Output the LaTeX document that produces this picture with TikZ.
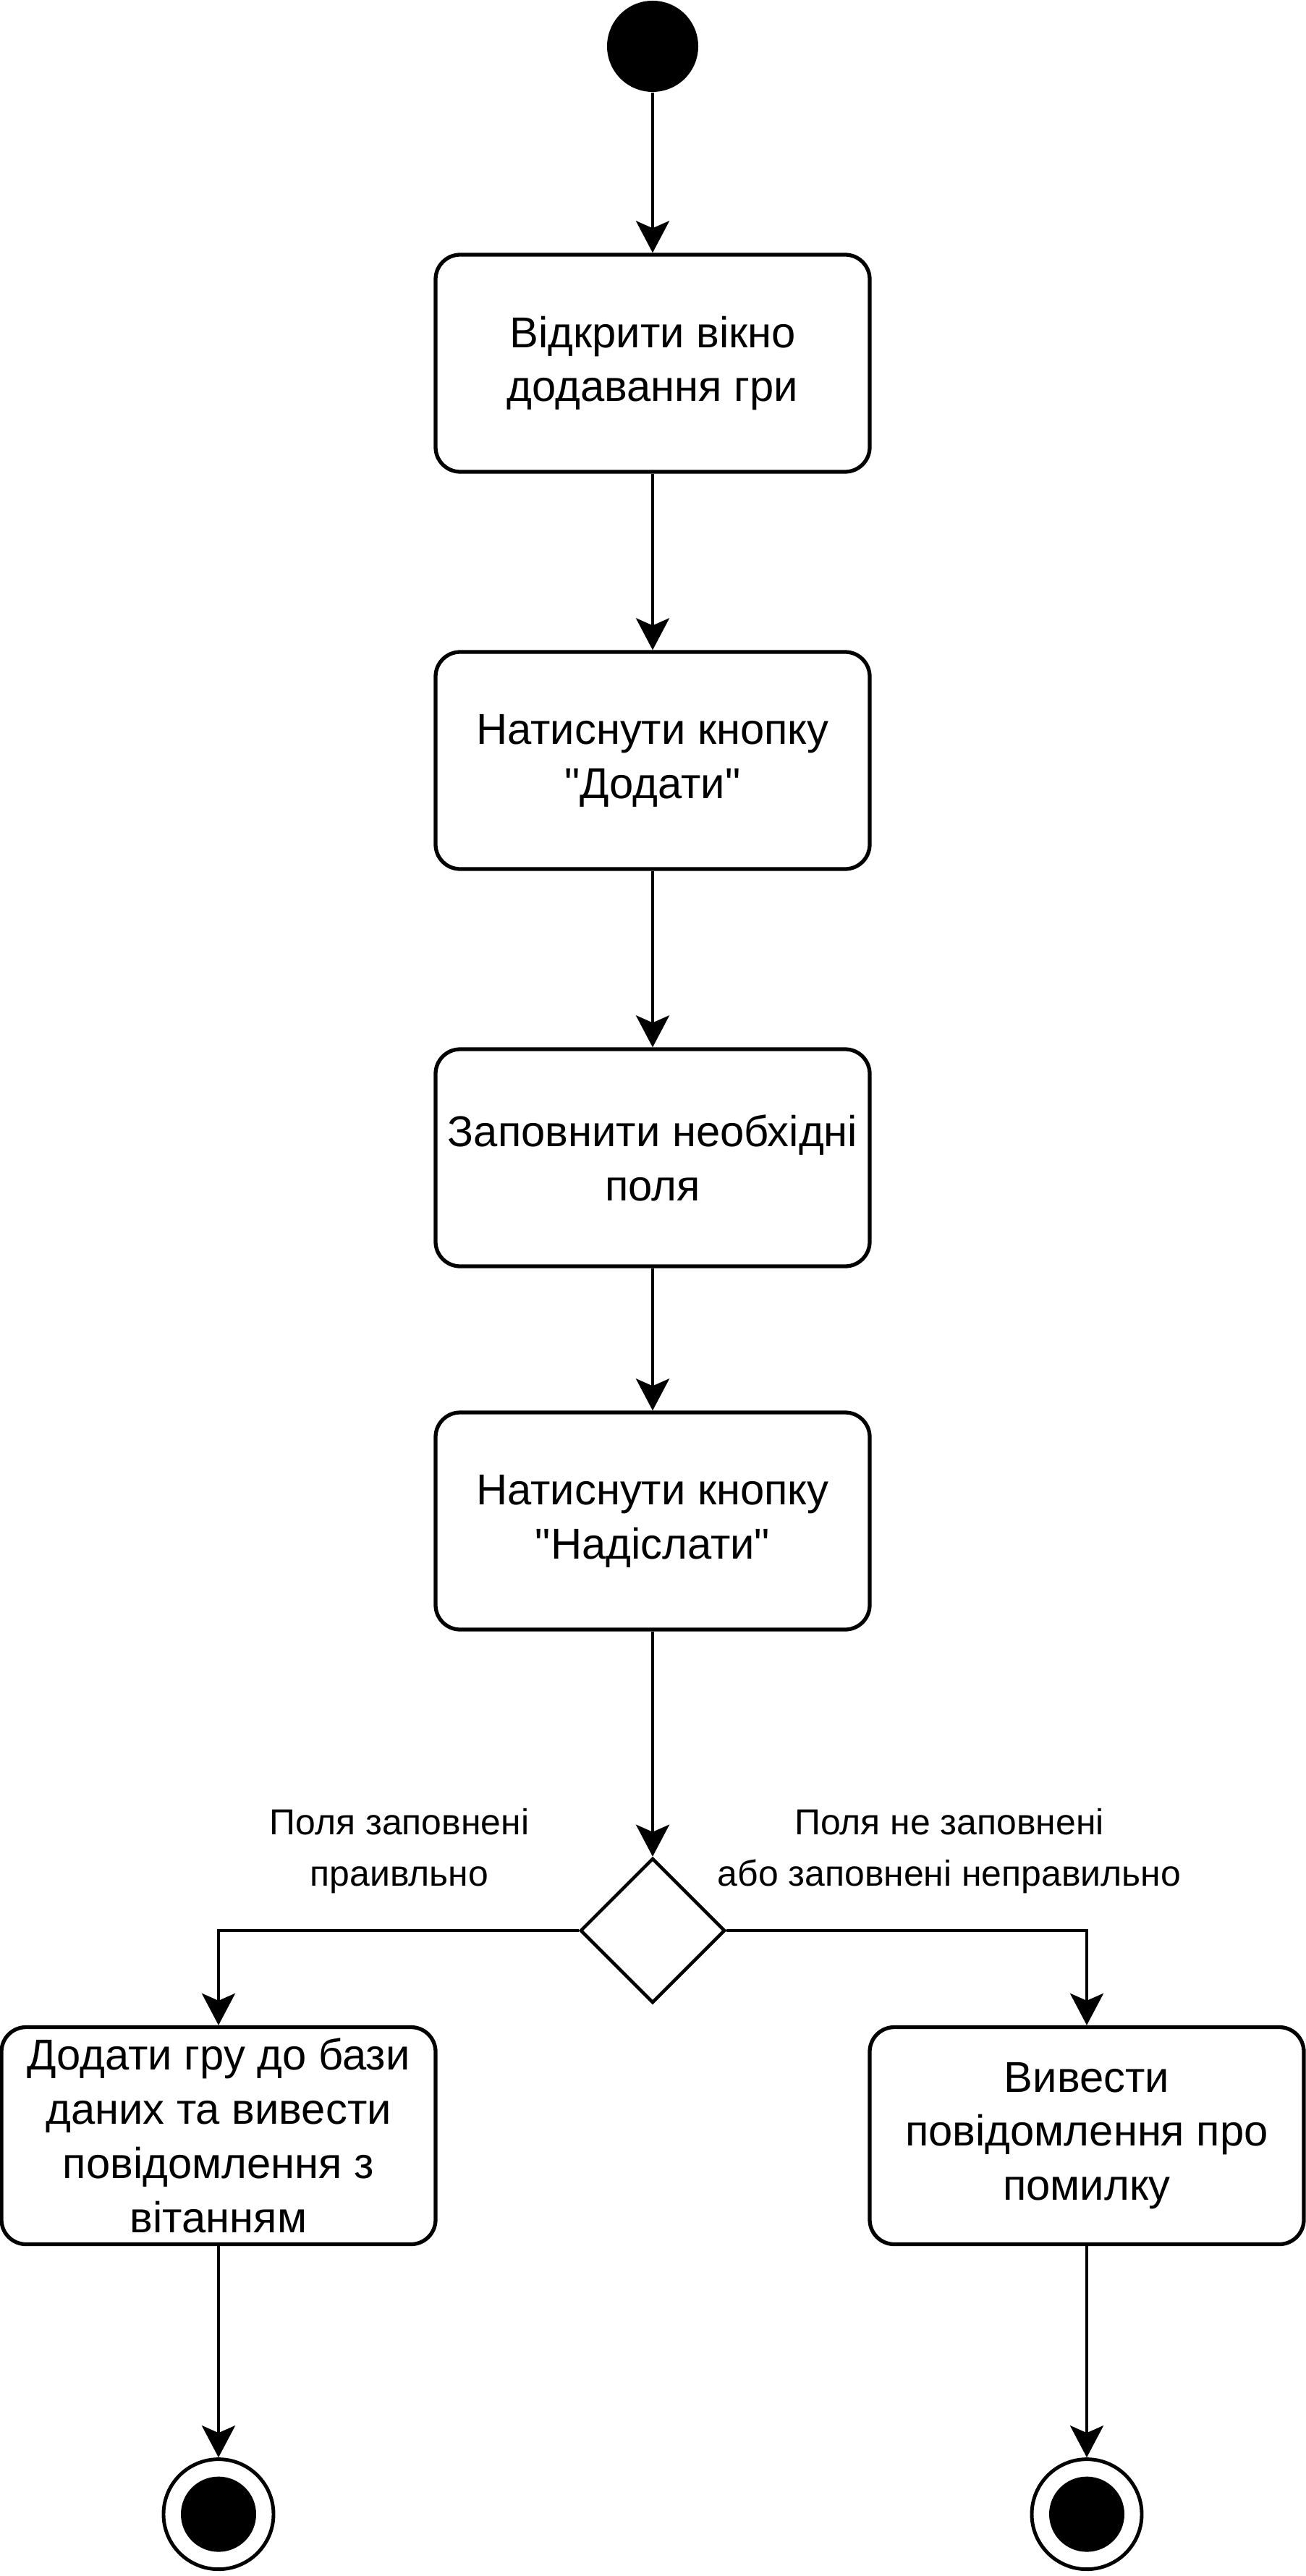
\documentclass[tikz,border=0pt]{standalone}
\usepackage{fontspec}
\setmainfont{Liberation Sans}[Ligatures=TeXOff]
\usetikzlibrary{arrows.meta,positioning,shapes.geometric}

\begin{document}
\begin{tikzpicture}[
  >={Stealth[length=4.4mm,width=4.6mm,inset=1mm]},
  act/.style={rounded corners=3.4mm,draw,align=center,minimum width=6cm,minimum height=3cm,inner sep=2pt,line width=1.5pt,font=\fontsize{17}{21.3}\selectfont},
  initst/.style={circle,fill=black,minimum size=1.26cm,inner sep=0pt},
  finalst/.style={circle,draw,line width=1.4pt,minimum size=1.52cm,inner sep=0pt,
    path picture={\fill (path picture bounding box.center) circle (0.52cm);}},
  dec/.style={diamond,draw,aspect=1,minimum width=2cm,minimum height=2cm,inner sep=0pt,line width=1.3pt},
  guard/.style={align=center,font=\fontsize{14.2}{20.2}\selectfont},
  flow/.style={->,line width=1.3pt},
]
\useasboundingbox (0,0) rectangle (18.05,-35.60);

% main column
\node[initst] (start) at (9.02,-0.64)  {};
\node[act] (open)  at (9.02,-5.02)   {Відкрити вікно\\ додавання гри};
\node[act] (add)   at (9.02,-10.51)  {Натиснути кнопку\\ "Додати"};
\node[act] (fill)  at (9.02,-16.00)  {Заповнити необхідні\\ поля};
\node[act] (send)  at (9.02,-21.02)  {Натиснути кнопку\\ "Надіслати"};
\node[dec] (check) at (9.02,-26.68)  {};

% branches
\node[act] (ok)  at (3.02,-29.515)  {Додати гру до бази\\ даних та вивести\\ повідомлення з\\ вітанням};
\node[act] (err) at (15.02,-29.515) {Вивести\\ повідомлення про\\ помилку};
\node[finalst,below=2.92cm of ok]  (endok)  {};
\node[finalst,below=2.92cm of err] (enderr) {};

% guards
\node[guard] (gok)  at (5.52,-25.58)  {Поля заповнені\\ праивльно};
\node[guard] (gerr) at (13.12,-25.58) {Поля не заповнені\\ або заповнені неправильно};

% edges
\draw[flow] (start) -- (open);
\draw[flow] (open) -- (add);
\draw[flow] (add) -- (fill);
\draw[flow] (fill) -- (send);
\draw[flow] (send) -- (check);
\draw[flow] (check.west) -| (ok.north);
\draw[flow] (check.east) -| (err.north);
\draw[flow] (ok) -- (endok);
\draw[flow] (err) -- (enderr);

\end{tikzpicture}
\end{document}
